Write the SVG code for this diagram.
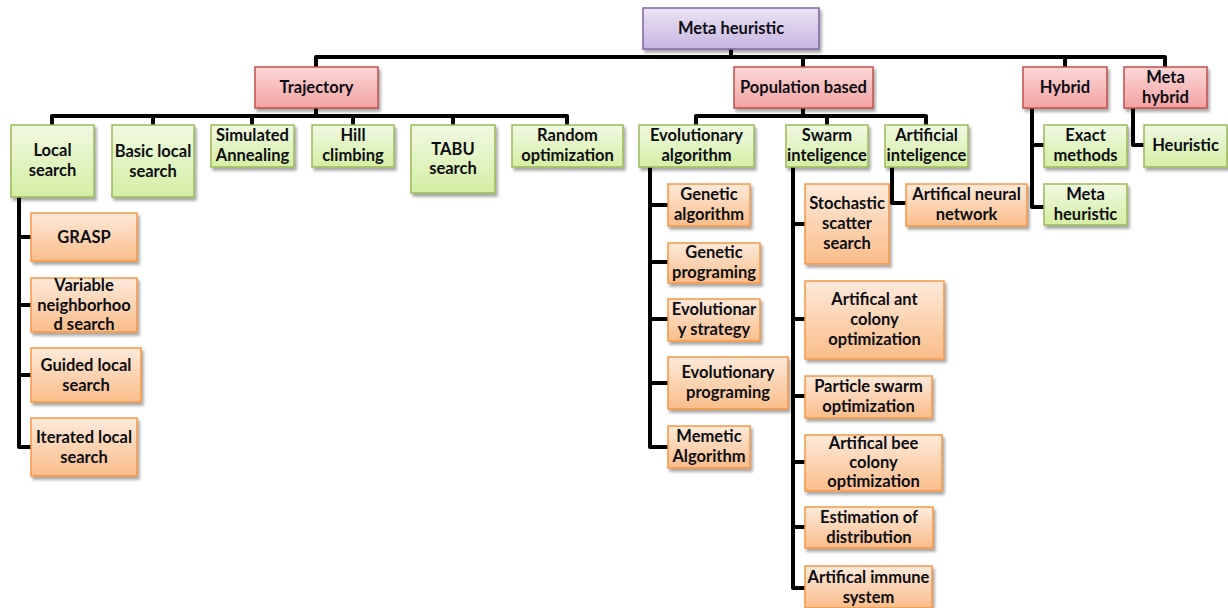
<svg xmlns="http://www.w3.org/2000/svg" width="1228" height="608" viewBox="0 0 1228 608">
<defs>
<linearGradient id="gG" x1="0" y1="0" x2="0" y2="1"><stop offset="0" stop-color="#f0f9e2"/><stop offset="1" stop-color="#d5eea4"/></linearGradient>
<linearGradient id="gR" x1="0" y1="0" x2="0" y2="1"><stop offset="0" stop-color="#fbd7d7"/><stop offset="1" stop-color="#f3a3a3"/></linearGradient>
<linearGradient id="gO" x1="0" y1="0" x2="0" y2="1"><stop offset="0" stop-color="#fdeadb"/><stop offset="1" stop-color="#fabd8a"/></linearGradient>
<linearGradient id="gP" x1="0" y1="0" x2="0" y2="1"><stop offset="0" stop-color="#ebe4f4"/><stop offset="1" stop-color="#c7b5e1"/></linearGradient>
<filter id="sh" x="-10%" y="-10%" width="130%" height="140%"><feDropShadow dx="2" dy="3" stdDeviation="1.8" flood-color="#000" flood-opacity="0.35"/></filter>
</defs>
<style>
.b rect{stroke-width:1.5;filter:url(#sh)}
.g rect{fill:url(#gG);stroke:#9bbb59}
.r rect{fill:url(#gR);stroke:#c0504d}
.o rect{fill:url(#gO);stroke:#f79646}
.p rect{fill:url(#gP);stroke:#8064a2}
text{font-family:Lato,"Liberation Sans",sans-serif;font-weight:bold;font-size:16.5px;fill:#0d0d14;text-anchor:middle}
#connectors path{fill:none;stroke:#000;stroke-width:4;stroke-linejoin:round}
</style>
<g id="connectors">
<path d="M731 49V57M316 67V57H1165V67M803 57V67M1065 57V67"/>
<path d="M316 108V116M52 125V116H567V125M153 116V125M252 116V125M353 116V125M453 116V125"/>
<path d="M19 197V447H31M19 237H31M19 305H31M19 375H31"/>
<path d="M803 108V116M696 125V116H926V125M827 116V125"/>
<path d="M650 167V447H668M650 205H668M650 262H668M650 319H668M650 383H668"/>
<path d="M793 167V588H805M793 224H805M793 319H805M793 396H805M793 462H805M793 527H805"/>
<path d="M892 167V203H906"/>
<path d="M1032 108V207H1044M1032 145H1044"/>
<path d="M1133 108V145H1144"/>
</g>
<g id="n-metaheuristic" class="b p"><rect x="643" y="8" width="176" height="41"/><text x="731" y="34">Meta heuristic</text></g>
<g id="n-trajectory" class="b r"><rect x="255" y="67" width="123" height="41"/><text x="316.5" y="93">Trajectory</text></g>
<g id="n-population" class="b r"><rect x="734" y="67" width="139" height="41"/><text x="803.5" y="93">Population based</text></g>
<g id="n-hybrid" class="b r"><rect x="1023" y="67" width="84" height="41"/><text x="1065" y="93">Hybrid</text></g>
<g id="n-metahybrid" class="b r"><rect x="1124" y="67" width="83" height="41"/><text x="1165.5" y="83">Meta</text><text x="1165.5" y="103">hybrid</text></g>
<g id="n-localsearch" class="b g"><rect x="11" y="125" width="83" height="72"/><text x="52.5" y="156">Local</text><text x="52.5" y="176">search</text></g>
<g id="n-basiclocal" class="b g"><rect x="112" y="125" width="82" height="72"/><text x="153" y="157">Basic local</text><text x="153" y="177">search</text></g>
<g id="n-simulated" class="b g"><rect x="211" y="125" width="83" height="42"/><text x="252.5" y="141">Simulated</text><text x="252.5" y="161">Annealing</text></g>
<g id="n-hill" class="b g"><rect x="312" y="125" width="82" height="42"/><text x="353" y="141">Hill</text><text x="353" y="161">climbing</text></g>
<g id="n-tabu" class="b g"><rect x="411" y="125" width="84" height="68"/><text x="453" y="155">TABU</text><text x="453" y="174">search</text></g>
<g id="n-random" class="b g"><rect x="512" y="125" width="111" height="42"/><text x="567.5" y="141">Random</text><text x="567.5" y="161">optimization</text></g>
<g id="n-evolutionary" class="b g"><rect x="639" y="125" width="115" height="42"/><text x="696.5" y="141">Evolutionary</text><text x="696.5" y="161">algorithm</text></g>
<g id="n-swarm" class="b g"><rect x="786" y="125" width="82" height="42"/><text x="827" y="141">Swarm</text><text x="827" y="161">inteligence</text></g>
<g id="n-ai" class="b g"><rect x="885" y="125" width="83" height="42"/><text x="926.5" y="141">Artificial</text><text x="926.5" y="161">inteligence</text></g>
<g id="n-exact" class="b g"><rect x="1044" y="125" width="83" height="42"/><text x="1085.5" y="141">Exact</text><text x="1085.5" y="161">methods</text></g>
<g id="n-heuristic" class="b g"><rect x="1144" y="125" width="83" height="42"/><text x="1185.5" y="151">Heuristic</text></g>
<g id="n-metaheuristic2" class="b g"><rect x="1044" y="184" width="83" height="41"/><text x="1085.5" y="200">Meta</text><text x="1085.5" y="220">heuristic</text></g>
<g id="n-ann" class="b o"><rect x="906" y="184" width="121" height="42"/><text x="966.5" y="200">Artifical neural</text><text x="966.5" y="220">network</text></g>
<g id="n-grasp" class="b o"><rect x="31" y="213" width="106" height="48"/><text x="84" y="243">GRASP</text></g>
<g id="n-vns" class="b o"><rect x="31" y="278" width="106" height="54"/><text x="84" y="291">Variable</text><text x="84" y="311">neighborhoo</text><text x="84" y="330">d search</text></g>
<g id="n-guided" class="b o"><rect x="31" y="348" width="110" height="54"/><text x="86" y="371">Guided local</text><text x="86" y="391">search</text></g>
<g id="n-iterated" class="b o"><rect x="31" y="418" width="106" height="58"/><text x="84" y="443">Iterated local</text><text x="84" y="463">search</text></g>
<g id="n-ga" class="b o"><rect x="668" y="184" width="82" height="42"/><text x="709" y="200">Genetic</text><text x="709" y="220">algorithm</text></g>
<g id="n-gp" class="b o"><rect x="668" y="243" width="92" height="40"/><text x="714" y="258">Genetic</text><text x="714" y="278">programing</text></g>
<g id="n-es" class="b o"><rect x="668" y="299" width="92" height="42"/><text x="714" y="315">Evolutionar</text><text x="714" y="335">y strategy</text></g>
<g id="n-ep" class="b o"><rect x="668" y="357" width="120" height="52"/><text x="728" y="378">Evolutionary</text><text x="728" y="398">programing</text></g>
<g id="n-memetic" class="b o"><rect x="668" y="426" width="82" height="42"/><text x="709" y="442">Memetic</text><text x="709" y="462">Algorithm</text></g>
<g id="n-sss" class="b o"><rect x="805" y="184" width="84" height="80"/><text x="847" y="209">Stochastic</text><text x="847" y="229">scatter</text><text x="847" y="249">search</text></g>
<g id="n-aco" class="b o"><rect x="805" y="281" width="139" height="78"/><text x="874.5" y="305">Artifical ant</text><text x="874.5" y="325">colony</text><text x="874.5" y="345">optimization</text></g>
<g id="n-pso" class="b o"><rect x="805" y="376" width="127" height="42"/><text x="868.5" y="392">Particle swarm</text><text x="868.5" y="412">optimization</text></g>
<g id="n-abc" class="b o"><rect x="805" y="435" width="137" height="56"/><text x="873.5" y="449">Artifical bee</text><text x="873.5" y="468">colony</text><text x="873.5" y="487">optimization</text></g>
<g id="n-eda" class="b o"><rect x="805" y="507" width="128" height="41"/><text x="869" y="523">Estimation of</text><text x="869" y="543">distribution</text></g>
<g id="n-ais" class="b o"><rect x="805" y="566" width="127" height="42"/><text x="868.5" y="583">Artifical immune</text><text x="868.5" y="603">system</text></g>
</svg>
